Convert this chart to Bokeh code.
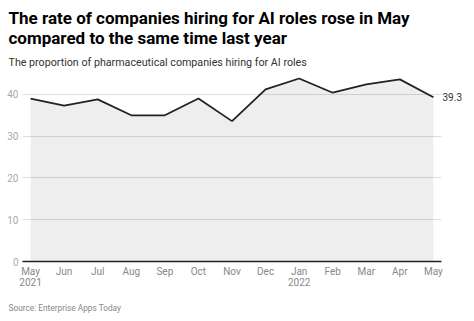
from bokeh.plotting import figure
from bokeh.models import FixedTicker, Range1d, ColumnDataSource, LinearAxis, Title
from bokeh.embed import file_html
from bokeh.resources import INLINE

months = ["May\n2021", "Jun", "Jul", "Aug", "Sep", "Oct", "Nov", "Dec",
          "Jan\n2022", "Feb", "Mar", "Apr", "May"]
values = [39.0, 37.3, 38.8, 35.0, 35.0, 39.0, 33.6, 41.2, 43.8, 40.4, 42.4, 43.6, 39.3]
y_ticks = [0, 10, 20, 30, 40]

title1 = "The rate of companies hiring for AI roles rose in May"
title2 = "compared to the same time last year"
subtitle = "The proportion of pharmaceutical companies hiring for AI roles"
source_note = "Source: Enterprise Apps Today"

FONT = "Roboto"
idx = list(range(len(months)))
src = ColumnDataSource(dict(x=idx, y=values, y0=[0] * len(values)))

p = figure(width=474, height=321, output_backend="svg", toolbar_location=None,
           x_range=Range1d(-0.24, len(months) - 1 + 0.24), y_range=Range1d(0, 45),
           min_border_left=22, min_border_right=33, min_border_top=73, min_border_bottom=60)
p.outline_line_color = None
p.background_fill_color = "white"
p.border_fill_color = "white"

p.xgrid.grid_line_color = None
p.ygrid.grid_line_color = "#dedede"
p.ygrid.grid_line_width = 1

p.varea(x="x", y1="y0", y2="y", source=src, fill_color="black", fill_alpha=0.065)
p.line(x="x", y="y", source=src, line_color="#222222", line_width=1.8)

# axes
xa = p.xaxis[0]
xa.ticker = FixedTicker(ticks=idx)
xa.major_label_overrides = {i: m for i, m in zip(idx, months)}
xa.axis_line_color = "#222222"
xa.axis_line_width = 1.5
xa.major_tick_line_color = None
xa.minor_tick_line_color = None
xa.major_tick_out = 0
xa.major_label_standoff = 4
xa.major_label_text_font = FONT
xa.major_label_text_font_size = "10px"
xa.major_label_text_line_height = 1.05
xa.major_label_text_color = "#888888"

ya = p.yaxis[0]
ya.ticker = FixedTicker(ticks=y_ticks)
ya.axis_line_color = None
ya.major_tick_line_color = None
ya.minor_tick_line_color = None
ya.major_tick_out = 0
ya.major_label_standoff = 4
ya.major_label_text_font = FONT
ya.major_label_text_font_size = "10px"
ya.major_label_text_color = "#aaaaaa"

# end value label as a right axis tick
ra = LinearAxis(ticker=FixedTicker(ticks=[values[-1]]))
ra.axis_line_color = None
ra.major_tick_line_color = None
ra.minor_tick_line_color = None
ra.major_tick_out = 0
ra.major_label_standoff = 1
ra.major_label_text_font = FONT
ra.major_label_text_font_size = "10px"
ra.major_label_text_color = "#333333"
p.add_layout(ra, "right")

# titles: first added is closest to the frame
p.add_layout(Title(text=subtitle, text_font=FONT, text_font_size="10.7px",
                   text_font_style="normal", text_color="#333333",
                   align="left", offset=-14, standoff=9.5), "above")
p.add_layout(Title(text=title2, text_font=FONT, text_font_size="17px",
                   text_font_style="bold", text_color="#000000",
                   align="left", offset=-14, standoff=1), "above")
p.add_layout(Title(text=title1, text_font=FONT, text_font_size="17px",
                   text_font_style="bold", text_color="#000000",
                   align="left", offset=-14, standoff=-5.5), "above")
p.add_layout(Title(text=source_note, text_font=FONT, text_font_size="8.3px",
                   text_font_style="normal", text_color="#888888",
                   align="left", offset=-14, standoff=18), "below")

open("out.html", "w").write(file_html(p, INLINE))
